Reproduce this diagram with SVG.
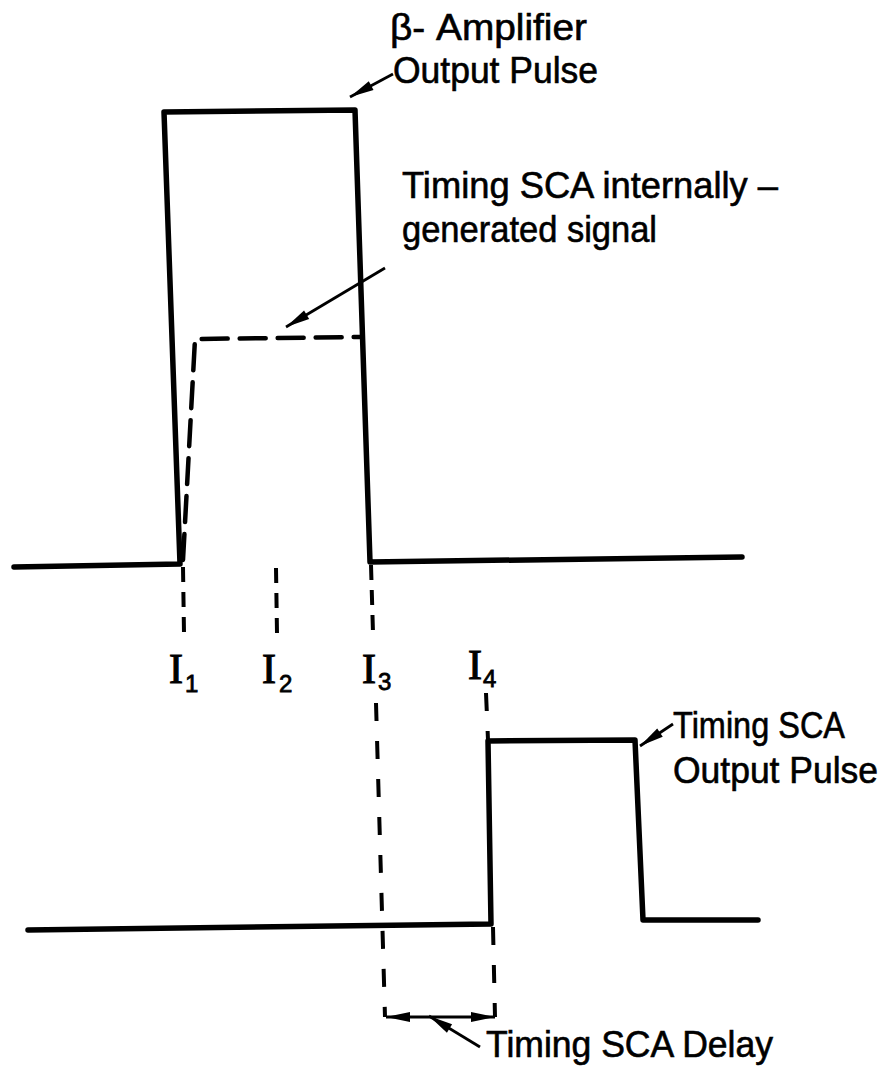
<svg xmlns="http://www.w3.org/2000/svg" width="889" height="1078" viewBox="0 0 889 1078">
<style>
.wave{fill:none;stroke:#000;stroke-width:5.5;stroke-linejoin:round;stroke-linecap:round}
.sig{fill:none;stroke:#000;stroke-width:4.5;stroke-dasharray:26 12;stroke-linecap:round}
.dash{fill:none;stroke:#000;stroke-width:4;stroke-dasharray:15 10}
.dash2{fill:none;stroke:#000;stroke-width:4;stroke-dasharray:18 20}
.lead{fill:none;stroke:#000;stroke-width:2.8}
.lbl{font-family:"Liberation Sans",Arial,sans-serif;font-size:36px;fill:#000;stroke:#000;stroke-width:0.6}
.iv{font-family:"Liberation Serif","Times New Roman",serif;font-size:42px;fill:#000;stroke:#000;stroke-width:1.2}
.sub{font-family:"Liberation Sans",Arial,sans-serif;font-size:24px;fill:#000;stroke:#000;stroke-width:0.8}
</style>
<defs>
<marker id="ah" markerUnits="userSpaceOnUse" viewBox="-26 -6 28 12" markerWidth="28" markerHeight="12" refX="0" refY="0" orient="auto-start-reverse">
<path d="M0,0 L-24,-5 L-24,5 Z" fill="#000"/>
</marker>
</defs>
<rect width="889" height="1078" fill="#fff"/>

<g id="beta-pulse">
<path class="wave" d="M14,567 L180,564 L164,112 L355,110 L370,562 L742,557"/>
</g>
<g id="internal-signal">
<path class="sig" d="M183,560 L195,339 L360,337"/>
</g>
<g id="sca-pulse">
<path class="wave" d="M28,930 L491,924 L488,741 L635,740 L643,920 L758,920"/>
</g>

<g id="markers">
<path class="dash" d="M183,567 L184,633"/>
<path class="dash" d="M276,568 L277,633"/>
<path class="dash" d="M371,565 L373,633"/>
<path class="dash2" d="M376,703 L385,1017"/>
<path class="dash2" d="M486,693 L488,740"/>
<path class="dash2" d="M493,927 L495,1017"/>
</g>

<g id="connectors">
<line class="lead" x1="393" y1="74" x2="350" y2="97" marker-end="url(#ah)"/>
<line class="lead" x1="385" y1="268" x2="286" y2="327" marker-end="url(#ah)"/>
<line class="lead" x1="673" y1="724" x2="640" y2="746" marker-end="url(#ah)"/>
<line class="lead" x1="480" y1="1047" x2="429" y2="1016" marker-end="url(#ah)"/>
<line class="lead" x1="386" y1="1017" x2="495" y2="1017" marker-start="url(#ah)" marker-end="url(#ah)"/>
</g>

<g id="labels">
<text class="lbl" x="390" y="40" textLength="197" lengthAdjust="spacingAndGlyphs">β- Amplifier</text>
<text class="lbl" x="393" y="83" textLength="205" lengthAdjust="spacingAndGlyphs">Output Pulse</text>
<text class="lbl" x="402" y="198" textLength="376" lengthAdjust="spacingAndGlyphs">Timing SCA internally –</text>
<text class="lbl" x="402" y="242" textLength="255" lengthAdjust="spacingAndGlyphs">generated signal</text>
<text class="lbl" x="673" y="738" textLength="172" lengthAdjust="spacingAndGlyphs">Timing SCA</text>
<text class="lbl" x="673" y="783" textLength="205" lengthAdjust="spacingAndGlyphs">Output Pulse</text>
<text class="lbl" x="486" y="1057" textLength="287" lengthAdjust="spacingAndGlyphs">Timing SCA Delay</text>
</g>

<g id="time-labels">
<text class="iv" x="169" y="683">I<tspan class="sub" x="185" y="692">1</tspan></text>
<text class="iv" x="262" y="683">I<tspan class="sub" x="279" y="692">2</tspan></text>
<text class="iv" x="362" y="683">I<tspan class="sub" x="378" y="690">3</tspan></text>
<text class="iv" x="468" y="679">I<tspan class="sub" x="483" y="687">4</tspan></text>
</g>
</svg>
